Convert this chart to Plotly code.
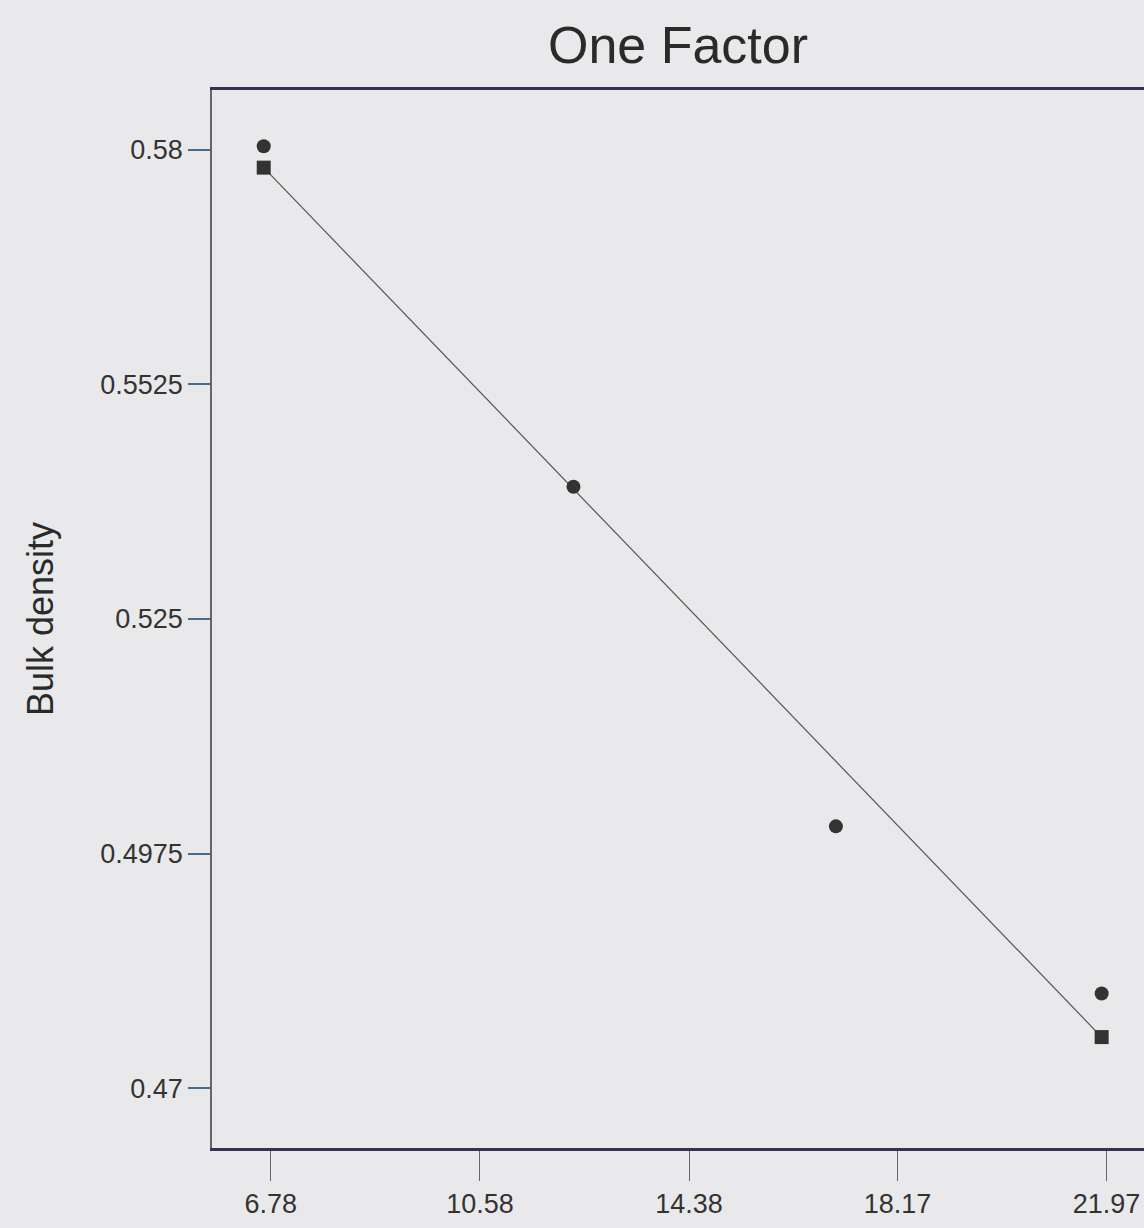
import plotly.graph_objects as go

# Data
actual_x = [6.65, 12.28, 17.05, 21.88]
actual_y = [0.5804, 0.5405, 0.5007, 0.4811]
pred_x = [6.65, 21.88]
pred_y = [0.5779, 0.4760]

x_ticks = [6.78, 10.58, 14.38, 18.17, 21.97]
x_tick_labels = ["6.78", "10.58", "14.38", "18.17", "21.97"]
y_ticks = [0.47, 0.4975, 0.525, 0.5525, 0.58]
y_tick_labels = ["0.47", "0.4975", "0.525", "0.5525", "0.58"]

bg = "#e9e9eb"
ink = "#333333"
font_family = "Liberation Sans, Arial, sans-serif"

fig = go.Figure()

fig.add_trace(go.Scatter(
    x=pred_x, y=pred_y, mode="lines+markers",
    line=dict(color="#555555", width=1.2),
    marker=dict(symbol="square", size=14, color=ink),
    showlegend=False, name="Predicted",
))
fig.add_trace(go.Scatter(
    x=actual_x, y=actual_y, mode="markers",
    marker=dict(symbol="circle", size=14, color=ink),
    showlegend=False, name="Actual",
))

fig.update_layout(
    width=1144, height=1228,
    paper_bgcolor=bg, plot_bgcolor=bg,
    margin=dict(l=212, r=0, t=90, b=80, autoexpand=False),
    font=dict(family=font_family, color=ink),
    title=dict(text="One Factor", x=0.5, xref="paper", xanchor="center",
               y=1 - 45 / 1228, yref="container", yanchor="middle",
               font=dict(size=52, color="#2a2a2a", family=font_family)),
    showlegend=False,
)

fig.update_xaxes(
    range=[5.71, 22.65],
    tickmode="array", tickvals=x_ticks, ticktext=x_tick_labels,
    ticks="outside", ticklen=30, tickwidth=1, tickcolor="#666666",
    showline=True, linecolor="#333355", linewidth=2.5, mirror=True,
    showgrid=False, zeroline=False,
    tickfont=dict(size=27, color=ink),
)
fig.update_yaxes(
    range=[0.463, 0.587],
    tickmode="array", tickvals=y_ticks, ticktext=y_tick_labels,
    ticks="outside", ticklen=22, tickwidth=1.5, tickcolor="#4a6a8a",
    showline=True, linecolor="#666666", linewidth=1.5,
    showgrid=False, zeroline=False,
    tickfont=dict(size=27, color=ink),
    title=dict(text="Bulk density", font=dict(size=36, color="#2a2a2a"), standoff=36),
)

fig.write_html(
    "out.html",
    config={"displayModeBar": False},
    post_script="document.body.style.margin='0';document.body.style.background='#e9e9eb';",
)
